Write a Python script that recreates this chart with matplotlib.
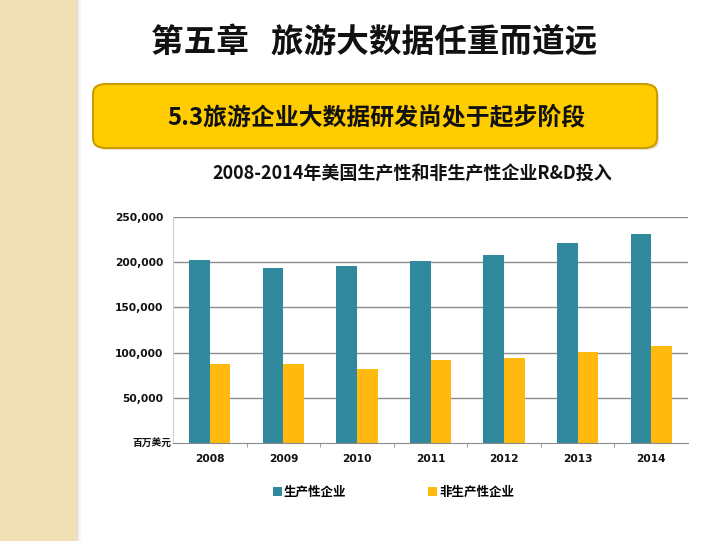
import matplotlib
matplotlib.use("Agg")
import matplotlib.pyplot as plt
from matplotlib.patches import Rectangle, FancyBboxPatch
from matplotlib.ticker import FuncFormatter

plt.rcParams['font.family'] = ['Noto Sans CJK SC', 'DejaVu Sans']

# data (百万美元)
years = ["2008", "2009", "2010", "2011", "2012", "2013", "2014"]
productive = [203000, 194000, 196000, 201500, 208000, 221500, 232000]
non_productive = [87000, 87000, 82000, 92000, 93500, 100500, 107500]
y_ticks = [50000, 100000, 150000, 200000, 250000]

teal = "#31899e"
gold = "#ffb90f"

fig = plt.figure(figsize=(7.2, 5.41), dpi=100)
fig.patch.set_facecolor("white")

# decorative left strip
fig.patches.append(Rectangle((0, 0), 76 / 720, 1, transform=fig.transFigure,
                             facecolor="#f1e0b5", edgecolor="none", zorder=0))
for i, c in enumerate(["#e6e0d2", "#efece4", "#f7f6f2"]):
    fig.patches.append(Rectangle(((76 + i * 1.5) / 720, 0), 1.5 / 720, 1,
                                 transform=fig.transFigure,
                                 facecolor=c, edgecolor="none", zorder=0))

# chapter heading
fig.text(374 / 720, 1 - 42 / 541, "第五章   旅游大数据任重而道远", ha="center", va="center",
         fontsize=23.5, fontweight="bold", color="#111111")

# yellow banner
fig.patches.append(FancyBboxPatch((95 / 720, 1 - 150 / 541), 564 / 720, 63 / 541,
                                  boxstyle="round,pad=0,rounding_size=0.018",
                                  transform=fig.transFigure, facecolor="#c9c2a8",
                                  edgecolor="none", alpha=0.5, zorder=1))
fig.patches.append(FancyBboxPatch((93 / 720, 1 - 148 / 541), 564 / 720, 64 / 541,
                                  boxstyle="round,pad=0,rounding_size=0.018",
                                  transform=fig.transFigure, facecolor="#ffcc00",
                                  edgecolor="#c99c00", linewidth=1.5, zorder=2))
fig.text(376 / 720, 1 - 117 / 541, "5.3旅游企业大数据研发尚处于起步阶段", ha="center",
         va="center", fontsize=17.2, fontweight="bold", color="#111111", zorder=3)

# chart title
fig.text(412 / 720, 1 - 173 / 541, "2008-2014年美国生产性和非生产性企业R&D投入",
         ha="center", va="center", fontsize=13, fontweight="bold", color="#111111")

ax = fig.add_axes([173 / 720, 98.3 / 541, 515 / 720, 225.4 / 541])
x = list(range(len(years)))
w = 0.28
ax.bar([i - w / 2 for i in x], productive, width=w, color=teal, zorder=2, label="生产性企业")
ax.bar([i + w / 2 for i in x], non_productive, width=w, color=gold, zorder=2, label="非生产性企业")

ax.set_xlim(-0.5, len(years) - 0.5)
ax.set_ylim(0, 250000)
ax.set_yticks(y_ticks)
ax.yaxis.set_major_formatter(FuncFormatter(lambda v, p: f"{int(v):,}"))
ax.yaxis.grid(True, color="#8c8c8c", linewidth=1.0, zorder=0)
ax.tick_params(axis="y", length=0, pad=7)
ax.set_xticks(x)
ax.set_xticklabels(years)
ax.set_xticks([i + 0.5 for i in x[:-1]], minor=True)
ax.tick_params(axis="x", which="major", length=0, pad=8)
ax.tick_params(axis="x", which="minor", length=3, color="#8c8c8c", direction="out")
for lab in ax.get_xticklabels() + ax.get_yticklabels():
    lab.set_fontweight("bold")
    lab.set_fontsize(7.7)
    lab.set_family(["DejaVu Sans"])
    lab.set_color("#111111")

for s in ["top", "right"]:
    ax.spines[s].set_visible(False)
ax.spines["left"].set_color("#d0d0d0")
ax.spines["bottom"].set_color("#8c8c8c")
ax.set_facecolor("none")

ax.text(-0.52, 0, "百万美元", transform=ax.transData, ha="right", va="center",
        fontsize=7, fontweight="bold", color="#111111")

leg = ax.legend(loc="upper center", bbox_to_anchor=(0.428, -0.143), ncol=2, frameon=False,
                handlelength=0.7, handleheight=0.7, handletextpad=0.15, columnspacing=6.6,
                prop={"size": 9, "weight": "bold"})

fig.savefig("out.png", dpi=100)
